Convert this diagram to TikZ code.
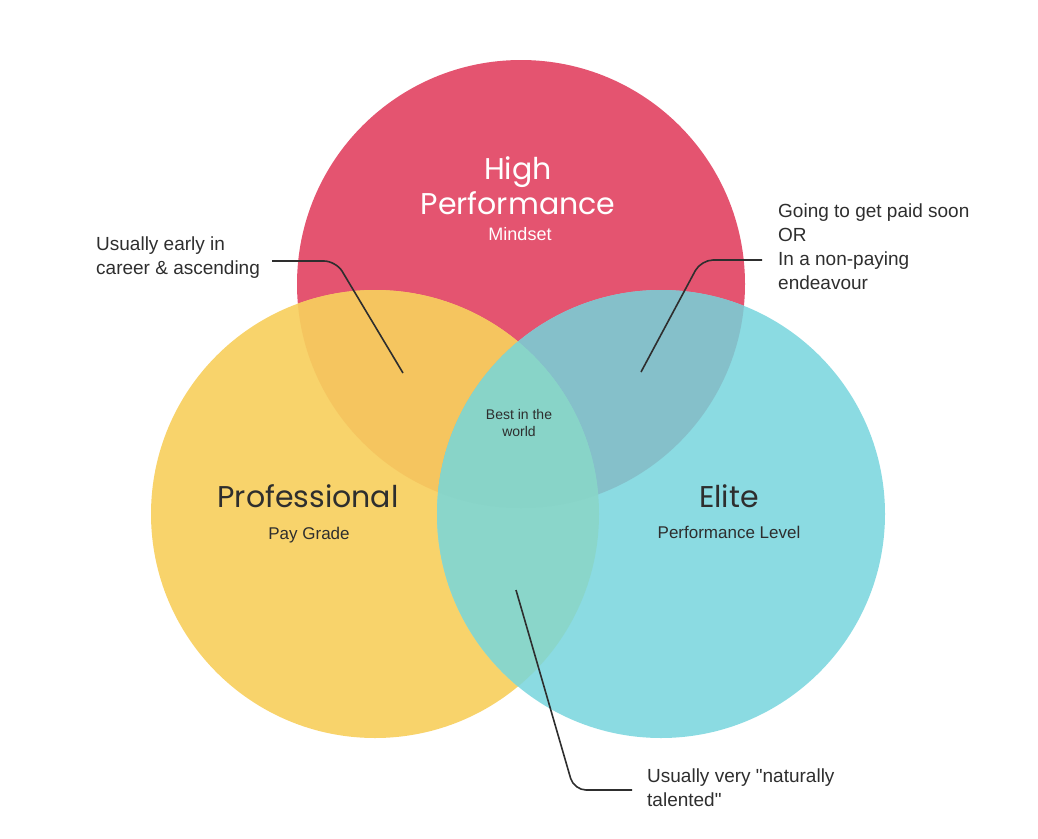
\documentclass[tikz,border=0pt]{standalone}
\usepackage{fontspec}
\setmainfont{Liberation Sans}
\newfontfamily\titlefont{Poppins}
\definecolor{cR}{HTML}{E45470}
\definecolor{cY}{HTML}{F8D36B}
\definecolor{cT}{HTML}{8BDBE2}
\definecolor{cRY}{HTML}{F5C55F}
\definecolor{cRT}{HTML}{85C0CA}
\definecolor{cYT}{HTML}{8AD6CA}
\definecolor{cRYT}{HTML}{88D4C8}
\definecolor{ink}{HTML}{2E2E2E}
\tikzset{
  title/.style={font=\titlefont\fontsize{30}{36}\selectfont, text=ink, inner sep=0pt, anchor=base},
  sub/.style={font=\fontsize{17}{20}\selectfont, text=ink, inner sep=0pt, anchor=base},
  label/.style={font=\fontsize{19}{24}\selectfont, text=ink, inner sep=0pt, align=left, anchor=base west},
  leader/.style={draw=ink, line width=1.6pt, rounded corners=12pt},
}
\begin{document}
\begin{tikzpicture}[x=1pt,y=-1pt]
\useasboundingbox (0,0) rectangle (1038,838);
\coordinate (R) at (521,284);
\coordinate (Y) at (375,514);
\coordinate (T) at (661,514);
\def\rad{224pt}
% base circles
\fill[cR] (R) circle (\rad);
\fill[cY] (Y) circle (\rad);
\fill[cT] (T) circle (\rad);
% pairwise overlaps
\begin{scope}\clip (R) circle (\rad); \fill[cRY] (Y) circle (\rad); \end{scope}
\begin{scope}\clip (R) circle (\rad); \fill[cRT] (T) circle (\rad); \end{scope}
\begin{scope}\clip (Y) circle (\rad); \fill[cYT] (T) circle (\rad); \end{scope}
\begin{scope}\clip (R) circle (\rad); \clip (Y) circle (\rad); \fill[cRYT] (T) circle (\rad); \end{scope}

% titles
\node[title, text=white] (hp1) at (518,179) {High};
\node[title, text=white] (hp2) at (518,214) {Performance};
\node[sub, text=white, font=\fontsize{18}{20}\selectfont] (hp3) at (520,240) {Mindset};
\node[title] (pro1) at (308,507) {Professional};
\node[sub] (pro2) at (309,539) {Pay Grade};
\node[title] (el1) at (729,507) {Elite};
\node[sub] (el2) at (729,538) {Performance Level};
\node[font=\fontsize{14}{17}\selectfont, text=ink, inner sep=0pt, anchor=base, align=center] (best) at (519,436) {Best in the\\world};

% labels (base anchor = baseline of the last line)
\node[label] (lab1) at (96,274) {Usually early in\\career \& ascending};
\node[label] (lab2) at (778,289) {Going to get paid soon\\OR\\In a non-paying\\endeavour};
\node[label] (lab3) at (647,806) {Usually very \textquotedbl naturally\\talented\textquotedbl};

% leader lines
\coordinate (l1s) at (272,261);
\coordinate (l1c) at (336,261);
\coordinate (l1e) at (403,373);
\draw[leader] (l1s) -- (l1c) -- (l1e);
\coordinate (l2s) at (762,260);
\coordinate (l2c) at (701,260);
\coordinate (l2e) at (641,372);
\draw[leader] (l2s) -- (l2c) -- (l2e);
\coordinate (l3s) at (516,590);
\coordinate (l3c) at (574,790);
\coordinate (l3e) at (632,790);
\draw[leader] (l3s) -- (l3c) -- (l3e);
\end{tikzpicture}
\end{document}
